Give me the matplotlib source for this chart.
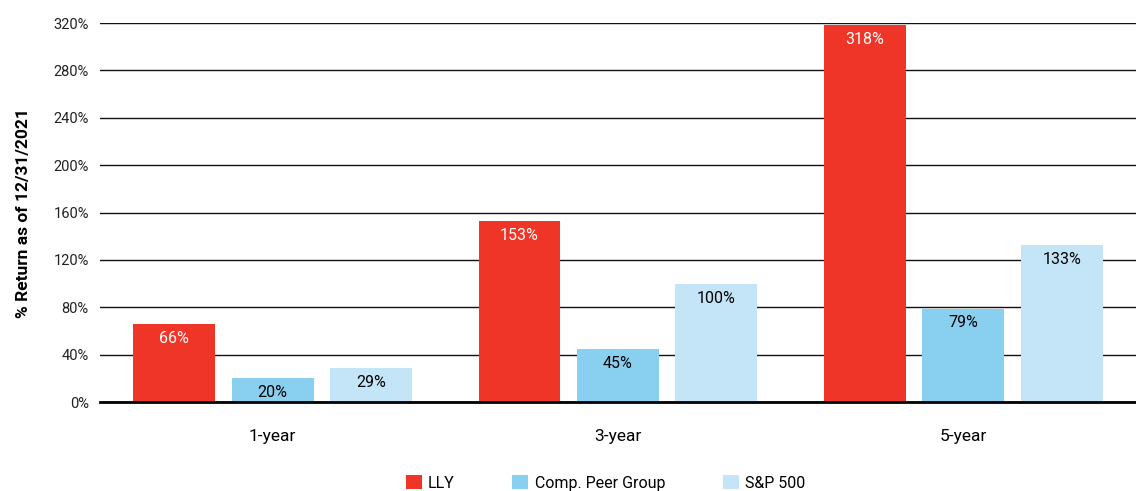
import numpy as np
import matplotlib.pyplot as plt

plt.rcParams['font.family'] = ['Roboto', 'DejaVu Sans']

periodos = ['1-year', '3-year', '5-year']
series = ['LLY', 'Comp. Peer Group', 'S&P 500']
lly = [66, 153, 318]
peer = [20, 45, 79]
sp500 = [29, 100, 133]
yticks = [0, 40, 80, 120, 160, 200, 240, 280, 320]

colores = ['#EE3527', '#88CFF0', '#C4E5F7']
colores_txt = ['white', 'black', 'black']

fig = plt.figure(figsize=(11.36, 4.91), dpi=100)
ax = fig.add_axes([0.088, 0.181, 0.912, 0.772])

x = np.arange(len(periodos))
ancho = 0.237
paso = 0.285
for i, (vals, nombre) in enumerate(zip([lly, peer, sp500], series)):
    pos = x + (i - 1) * paso
    ax.bar(pos, vals, width=ancho, color=colores[i], label=nombre, zorder=3)
    for p, v in zip(pos, vals):
        ax.annotate(f'{v}%', (p, v), xytext=(0, -5), textcoords='offset points',
                    ha='center', va='top', fontsize=11.5, color=colores_txt[i], zorder=4)

ax.set_xlim(-0.5, 2.5)
ax.set_ylim(0, 320)
ax.set_yticks(yticks)
ax.set_yticklabels([f'{t}%' for t in yticks], fontsize=10.5, color='#222222')
ax.set_xticks(x)
ax.set_xticklabels(periodos, fontsize=12.5)
ax.tick_params(axis='y', length=0, pad=8)
ax.tick_params(axis='x', length=0, pad=19)
ax.yaxis.grid(True, color='#111111', linewidth=1.0, zorder=0)
ax.set_axisbelow(True)
for s in ['top', 'right', 'left']:
    ax.spines[s].set_visible(False)
ax.spines['bottom'].set_linewidth(2)
ax.spines['bottom'].set_zorder(5)
ax.set_ylabel('% Return as of 12/31/2021', fontsize=12.5, fontweight='bold', labelpad=16)

ax.legend(loc='upper center', bbox_to_anchor=(0.488, -0.167), ncol=3, frameon=False,
          fontsize=11.5, handlelength=1.0, handleheight=1.0, handletextpad=0.4,
          columnspacing=3.6, borderaxespad=0.2)

plt.savefig('out.png', dpi=100)
